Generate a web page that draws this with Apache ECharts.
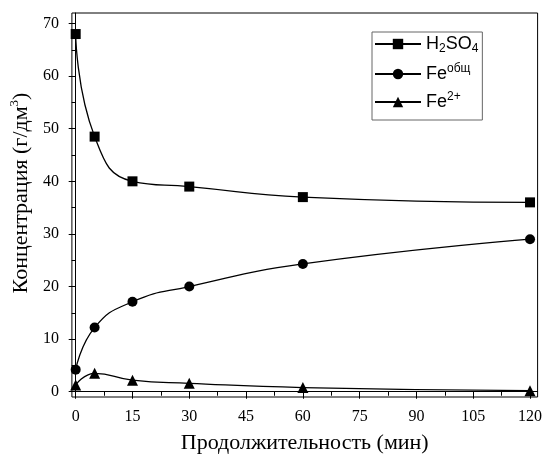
<!DOCTYPE html>
<html>
<head>
<meta charset="utf-8">
<script src="https://cdn.jsdelivr.net/npm/echarts@6/dist/echarts.min.js"></script>
<style>
  html, body { margin: 0; padding: 0; background: #fff; }
  #chart { width: 545px; height: 464px; }
</style>
</head>
<body>
<div id="chart"></div>
<script>
// время, мин
const times = [0, 5, 15, 30, 60, 120];
// концентрации, г/дм3
const h2so4 = [68, 48.5, 40, 39, 37, 36];
const feTotal = [4.2, 12.2, 17.1, 20, 24.3, 29];
const fe2 = [1.3, 3.5, 2.2, 1.6, 0.8, 0.2];

const xTicks = [0, 15, 30, 45, 60, 75, 90, 105, 120];
const xMinor = [7.5, 22.5, 37.5, 52.5, 67.5, 82.5, 97.5, 112.5];
const yTicks = [0, 10, 20, 30, 40, 50, 60, 70];
const yMinor = [5, 15, 25, 35, 45, 55, 65];

const seriesNames = ['H2SO4', 'Fe_total', 'Fe2'];
const legendLabels = {
  H2SO4: '{n|H}{sub|2}{n|SO}{sub|4}',
  Fe_total: '{n|Fe}{sup|общ}',
  Fe2: '{n|Fe}{sup|2+}'
};

function pairs(ys) {
  return times.map((t, i) => [t, ys[i]]);
}

const serif = 'Liberation Serif';
const sans = 'Liberation Sans';

function lineSeries(name, ys, symbol, size) {
  return {
    name: name,
    type: 'line',
    data: pairs(ys),
    smooth: 0.5,
    symbol: symbol,
    symbolSize: size,
    showAllSymbol: true,
    itemStyle: { color: '#000' },
    lineStyle: { color: '#000', width: 1.3 },
    xAxisIndex: 0,
    yAxisIndex: 0,
    z: 3
  };
}

const chart = echarts.init(document.getElementById('chart'));
chart.setOption({
  animation: false,
  backgroundColor: '#fff',
  grid: {
    left: 70, right: 3, top: 13, bottom: 67,
    show: true, borderColor: '#000', borderWidth: 1
  },
  legend: {
    data: seriesNames,
    orient: 'vertical',
    left: 372, top: 32,
    itemWidth: 46, itemHeight: 13, itemGap: 8,
    padding: [3, 4, 9, 2],
    borderColor: '#666', borderWidth: 1,
    formatter: n => legendLabels[n],
    textStyle: {
      color: '#000',
      rich: {
        n: { fontFamily: sans, fontSize: 18, color: '#000', lineHeight: 22 },
        sub: { fontFamily: sans, fontSize: 12, color: '#000', lineHeight: 10, verticalAlign: 'bottom' },
        sup: { fontFamily: sans, fontSize: 12, color: '#000', lineHeight: 10, verticalAlign: 'top' }
      }
    }
  },
  xAxis: [{
    type: 'value', min: -1, max: 122,
    name: 'Продолжительность (мин)',
    nameLocation: 'middle', nameGap: 35,
    nameTextStyle: { fontFamily: serif, fontSize: 22, color: '#000' },
    axisLine: { show: true, lineStyle: { color: '#000', width: 1 } },
    axisTick: { show: true, length: 7, customValues: xTicks, lineStyle: { color: '#000' } },
    axisLabel: { customValues: xTicks, margin: 12, fontFamily: serif, fontSize: 16, color: '#000' },
    splitLine: { show: false }
  }, {
    type: 'value', min: -1, max: 122, position: 'bottom',
    axisLine: { show: false },
    axisTick: { show: true, length: 4, customValues: xMinor, lineStyle: { color: '#000' } },
    axisLabel: { show: false },
    splitLine: { show: false }
  }],
  yAxis: [{
    type: 'value', min: -1, max: 72,
    name: '{a|Концентрация (г/дм}{s|3}{a|)}',
    nameLocation: 'middle', nameGap: 34,
    nameTextStyle: {
      color: '#000',
      padding: [0, 0, 0, 24],
      rich: {
        a: { fontFamily: serif, fontSize: 22, color: '#000', lineHeight: 26 },
        s: { fontFamily: serif, fontSize: 13, color: '#000', lineHeight: 12, verticalAlign: 'top' }
      }
    },
    axisLine: { show: true, lineStyle: { color: '#000', width: 1 } },
    axisTick: { show: true, length: 7, customValues: yTicks, lineStyle: { color: '#000' } },
    axisLabel: { customValues: yTicks, margin: 13, fontFamily: serif, fontSize: 16, color: '#000' },
    splitLine: { show: false }
  }, {
    type: 'value', min: -1, max: 72, position: 'left',
    axisLine: { show: false },
    axisTick: { show: true, length: 4, customValues: yMinor, lineStyle: { color: '#000' } },
    axisLabel: { show: false },
    splitLine: { show: false }
  }],
  series: [
    lineSeries('H2SO4', h2so4, 'rect', 10),
    lineSeries('Fe_total', feTotal, 'circle', 10),
    lineSeries('Fe2', fe2, 'triangle', 11)
  ]
});
</script>
</body>
</html>
